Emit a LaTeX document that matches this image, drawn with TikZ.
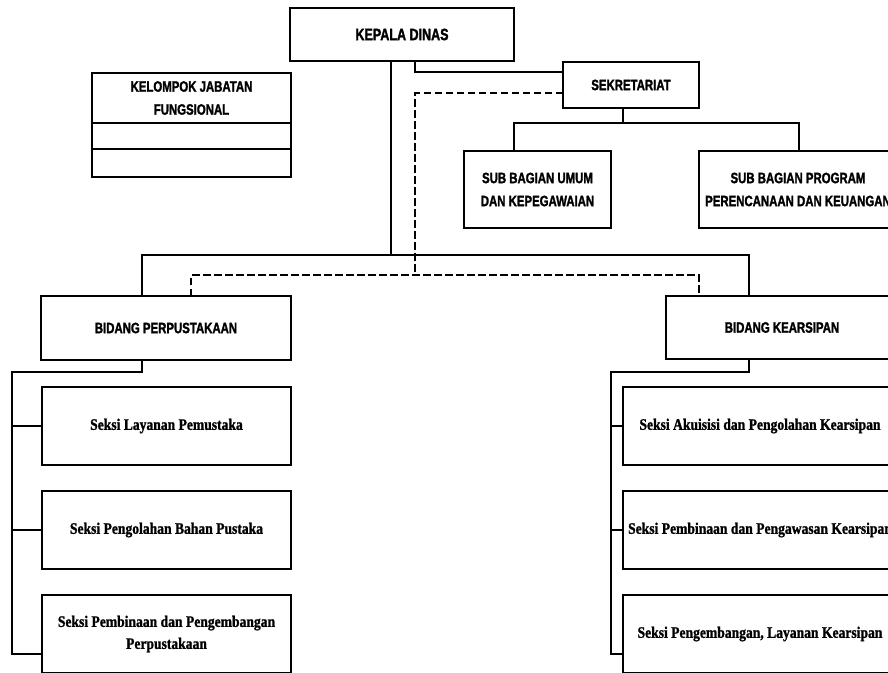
\documentclass[tikz,border=0pt]{standalone}
\usepackage{fontspec}
\usepackage{tikz}
\usetikzlibrary{positioning,calc}
\newfontfamily\orgsans{Liberation Sans}[FakeStretch=0.76,FakeBold=1.6]
\newfontfamily\orgserif{Liberation Serif}[FakeStretch=0.85,FakeBold=1.2]
\tikzset{
  unit/.style={draw=black,line width=2.2pt,outer sep=0pt,inner sep=2pt,align=center,
               font=\orgsans\bfseries\fontsize{15}{23}\selectfont},
  head/.style={unit,font=\orgsans\bfseries\fontsize{16.5}{23}\selectfont},
  seksi/.style={unit,minimum width=249pt,minimum height=78pt,
                font=\orgserif\bfseries\fontsize{16}{22}\selectfont},
  conn/.style={line width=1.5pt,black},
  koord/.style={line width=2.8pt,black,dash pattern=on 7.5pt off 3.5pt},
}

\begin{document}
\begin{tikzpicture}[x=1pt,y=-1pt,node distance=26pt]
  \useasboundingbox (0,0) rectangle (888,672);
  \clip (0,0) rectangle (888,672);
  \node[head,minimum width=224pt,minimum height=53pt] (kepala) at (402,34.5) {KEPALA DINAS};
  \node[unit,minimum width=136pt,minimum height=46pt] (sekre) at (631,85) {SEKRETARIAT};
  \node[unit,minimum width=199pt,minimum height=50pt] (kjf) at (191.5,98) {KELOMPOK JABATAN\\FUNGSIONAL};
  \node[unit,minimum width=199pt,minimum height=26pt,below=0pt of kjf] (kjfa) {};
  \node[unit,minimum width=199pt,minimum height=28pt,below=0pt of kjfa] (kjfb) {};
  \node[unit,minimum width=147pt,minimum height=77pt] (umum) at (537.5,189.5) {SUB BAGIAN UMUM\\DAN KEPEGAWAIAN};
  \node[unit,minimum width=198pt,minimum height=77pt] (prog) at (798,189.5) {SUB BAGIAN PROGRAM\\PERENCANAAN DAN KEUANGAN};
  \node[unit,minimum width=250pt,minimum height=64pt] (perpus) at (166,328) {BIDANG PERPUSTAKAAN};
  \node[unit,minimum width=232pt,minimum height=63pt] (arsip) at (782,327.5) {BIDANG KEARSIPAN};
  \node[seksi] (lay) at (166.5,426) {Seksi Layanan Pemustaka};
  \node[seksi,below=of lay] (olah) {Seksi Pengolahan Bahan Pustaka};
  \node[seksi,below=of olah] (bina) {Seksi Pembinaan dan Pengembangan\\Perpustakaan};
  \node[seksi,minimum width=274pt] (akui) at (760,426) {Seksi Akuisisi dan Pengolahan Kearsipan};
  \node[seksi,minimum width=274pt,below=of akui] (awas) {Seksi Pembinaan dan Pengawasan Kearsipan};
  \node[seksi,minimum width=274pt,below=of awas] (kemb) {Seksi Pengembangan, Layanan Kearsipan};

  \coordinate (ks) at (415,72);
  \coordinate (kbus) at (391,255);
  \coordinate (lbus) at (142,255);
  \coordinate (rbus) at (749,255);
  \draw[conn] (kepala.south -| ks) -- (ks) -- (ks -| sekre.west);
  \draw[conn] (kepala.south -| kbus) -- (kbus);
  \draw[conn] (perpus.north -| lbus) -- (lbus) -- (rbus) -- (arsip.north -| rbus);

  \coordinate (dk) at (415,93);
  \coordinate (dl) at (191,275);
  \coordinate (dr) at (699,275);
  \draw[koord] (sekre.west |- dk) -- (dk) -- (dk |- dl);
  \draw[koord] (perpus.north -| dl) -- (dl) -- (dr) -- (arsip.north -| dr);

  \coordinate (sm) at (623,123);
  \coordinate (sl) at (514,123);
  \coordinate (sr) at (799,123);
  \draw[conn] (sekre.south -| sm) -- (sm);
  \draw[conn] (umum.north -| sl) -- (sl) -- (sr) -- (prog.north -| sr);

  \coordinate (lp) at (12,372);
  \coordinate (lq) at (12,654);
  \draw[conn] (perpus.south -| lbus) |- (lp) -- (lq) -- (lq -| bina.west);
  \draw[conn] (lp |- lay.west) -- (lay.west);
  \draw[conn] (lp |- olah.west) -- (olah.west);

  \coordinate (rp) at (611,372);
  \coordinate (rq) at (611,654);
  \draw[conn] (arsip.south -| rbus) |- (rp) -- (rq) -- (rq -| kemb.west);
  \draw[conn] (rp |- akui.west) -- (akui.west);
  \draw[conn] (rp |- awas.west) -- (awas.west);
\end{tikzpicture}
\end{document}
